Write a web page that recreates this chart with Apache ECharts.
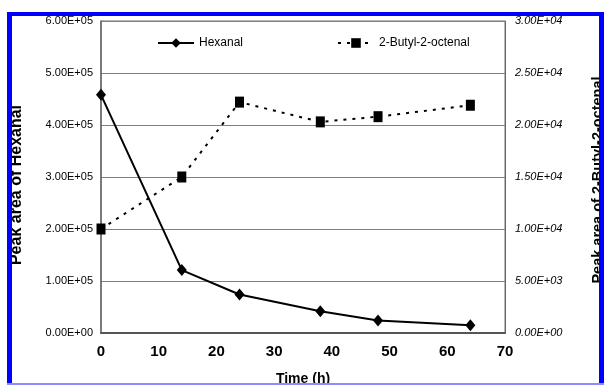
<!DOCTYPE html>
<html>
<head>
<meta charset="utf-8" />
<title>Hexanal / 2-Butyl-2-octenal</title>
<script src="https://cdn.jsdelivr.net/npm/echarts@6/dist/echarts.min.js"></script>
<style>
  html, body { margin: 0; padding: 0; background: #fff; }
  #main { position: absolute; left: 0; top: 0; width: 604px; height: 385px; }
  .bar { position: absolute; pointer-events: none; }
</style>
</head>
<body>
<div id="main"></div>
<!-- window-like blue frame on top of the chart -->
<div class="bar" style="left:0;top:0;width:604px;height:12px;background:#fff;"></div>
<div class="bar" style="left:7px;top:12px;width:597px;height:4px;background:#0000ff;"></div>
<div class="bar" style="left:7px;top:12px;width:5px;height:373px;background:#0000ff;"></div>
<div class="bar" style="left:599px;top:12px;width:5px;height:373px;background:#0000ff;"></div>
<div class="bar" style="left:7px;top:383px;width:597px;height:2px;background:#8c8cff;"></div>
<script type="text/javascript">
var timeH = [0, 14, 24, 38, 48, 64];
var hexanal = [458000, 121000, 74000, 42000, 24000, 15000];
var butyloctenal = [10000, 15000, 22200, 20300, 20800, 21900];

function sci(v) {
    if (v === 0) return '0.00E+00';
    var e = Math.floor(Math.log10(Math.abs(v)) + 1e-9);
    var m = v / Math.pow(10, e);
    return m.toFixed(2) + 'E+' + (e < 10 ? '0' : '') + e;
}

function pairs(ys) {
    var out = [];
    for (var i = 0; i < timeH.length; i++) out.push([timeH[i], ys[i]]);
    return out;
}

var font = 'Liberation Sans';
var myChart = echarts.init(document.getElementById('main'));

var option = {
    animation: false,
    backgroundColor: '#fff',
    textStyle: { fontFamily: font, color: '#000' },
    grid: {
        left: 101, right: 99, top: 21, bottom: 52,
        outerBoundsMode: 'none',
        show: true, borderColor: '#707070', borderWidth: 1
    },
    legend: [
        {
            data: ['Hexanal'], left: 157, top: 37, padding: 0,
            itemWidth: 36, itemHeight: 12,
            textStyle: { fontFamily: font, fontSize: 12, color: '#000' }
        },
        {
            data: ['2-Butyl-2-octenal'], left: 337, top: 37, padding: 0,
            itemWidth: 36, itemHeight: 12,
            textStyle: { fontFamily: font, fontSize: 12, color: '#000' }
        }
    ],
    xAxis: {
        type: 'value', min: 0, max: 70, interval: 10,
        name: 'Time (h)', nameLocation: 'middle', nameGap: 39,
        nameTextStyle: { fontFamily: font, fontSize: 14, fontWeight: 'bold', color: '#000' },
        axisLine: { onZero: false, lineStyle: { color: '#555', width: 2 } },
        axisTick: { show: false },
        splitLine: { show: false },
        axisLabel: { margin: 11, fontSize: 15, fontWeight: 'bold', color: '#000' }
    },
    yAxis: [
        {
            type: 'value', min: 0, max: 600000, interval: 100000,
            name: 'Peak area of Hexanal', nameLocation: 'middle', nameGap: 76,
            nameTextStyle: { fontFamily: font, fontSize: 16, fontWeight: 'bold', color: '#000', padding: [0, 16, 0, 0] },
            axisLine: { show: true, lineStyle: { color: '#666', width: 1.5 } },
            axisTick: { show: false },
            splitLine: { lineStyle: { color: '#808080', width: 1 } },
            axisLabel: { margin: 8, fontSize: 11, color: '#000', formatter: sci }
        },
        {
            type: 'value', min: 0, max: 30000, interval: 5000,
            position: 'right',
            name: 'Peak area of 2-Butyl-2-octenal', nameLocation: 'middle', nameGap: 85,
            nameTextStyle: { fontFamily: font, fontSize: 14.5, fontWeight: 'bold', color: '#000', padding: [0, 6, 0, 0] },
            axisLine: { show: true, lineStyle: { color: '#666', width: 1 } },
            axisTick: { show: false },
            splitLine: { show: false },
            axisLabel: { margin: 10, fontSize: 11, fontStyle: 'italic', color: '#000', formatter: sci }
        }
    ],
    series: [
        {
            name: 'Hexanal', type: 'line', yAxisIndex: 0,
            data: pairs(hexanal),
            symbol: 'diamond', symbolSize: [10, 12],
            itemStyle: { color: '#000' },
            lineStyle: { color: '#000', width: 2 }
        },
        {
            name: '2-Butyl-2-octenal', type: 'line', yAxisIndex: 1,
            data: pairs(butyloctenal),
            symbol: 'rect', symbolSize: [9, 11],
            itemStyle: { color: '#000' },
            lineStyle: { color: '#000', width: 2, type: [3, 6] }
        }
    ]
};

myChart.setOption(option);
</script>
</body>
</html>
